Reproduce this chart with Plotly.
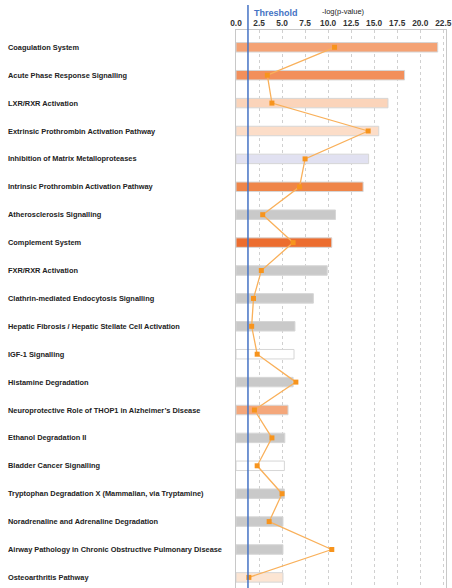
import plotly.graph_objects as go

pathways = [
    "Coagulation System",
    "Acute Phase Response Signalling",
    "LXR/RXR Activation",
    "Extrinsic Prothrombin Activation Pathway",
    "Inhibition of Matrix Metalloproteases",
    "Intrinsic Prothrombin Activation Pathway",
    "Atherosclerosis Signalling",
    "Complement System",
    "FXR/RXR Activation",
    "Clathrin-mediated Endocytosis Signalling",
    "Hepatic Fibrosis / Hepatic Stellate Cell Activation",
    "IGF-1 Signalling",
    "Histamine Degradation",
    "Neuroprotective Role of THOP1 in Alzheimer\u2019s Disease",
    "Ethanol Degradation II",
    "Bladder Cancer Signalling",
    "Tryptophan Degradation X (Mammalian, via Tryptamine)",
    "Noradrenaline and Adrenaline Degradation",
    "Airway Pathology in Chronic Obstructive Pulmonary Disease",
    "Osteoarthritis Pathway",
]
neg_log_p = [21.9, 18.3, 16.5, 15.5, 14.4, 13.8, 10.8, 10.4, 9.9, 8.4,
             6.4, 6.3, 6.2, 5.65, 5.3, 5.25, 5.25, 5.1, 5.1, 5.1]
ratio = [10.7, 3.4, 3.9, 14.35, 7.5, 6.9, 2.9, 6.2, 2.75, 1.9,
         1.7, 2.3, 6.5, 2.0, 3.9, 2.3, 5.0, 3.6, 10.4, 1.4]
bar_colors = ["#F4A274", "#F28F5B", "#FBD4BA", "#FCDDC8", "#E1E1F1", "#EF8548",
              "#C9C9C9", "#EC6D2F", "#C9C9C9", "#C9C9C9", "#C9C9C9", "#FFFFFF",
              "#C9C9C9", "#F4A77B", "#C9C9C9", "#FFFFFF", "#C9C9C9", "#C9C9C9",
              "#C9C9C9", "#FCE5D3"]
threshold = 1.3
x_ticks = [0, 2.5, 5, 7.5, 10, 12.5, 15, 17.5, 20, 22.5]

idx = list(range(len(pathways)))

fig = go.Figure()
fig.add_trace(go.Bar(
    x=neg_log_p, y=idx, orientation="h", width=0.34,
    marker=dict(color=bar_colors, line=dict(color="#D6D6D6", width=1)),
    showlegend=False, hoverinfo="skip",
))
fig.add_trace(go.Scatter(
    x=ratio, y=idx, mode="lines+markers",
    line=dict(color="#F9B05A", width=1.3),
    marker=dict(symbol="square", size=5, color="#F7941D"),
    showlegend=False, hoverinfo="skip",
))

for i, name in zip(idx, pathways):
    fig.add_annotation(
        x=-1.095, xref="paper", y=i, yref="y", text=name, showarrow=False,
        xanchor="left", yanchor="middle",
        font=dict(family="Liberation Sans, Arial", size=7.4,
                  color="#222222", weight="bold"),
    )

fig.add_shape(type="line", xref="x", yref="paper", x0=threshold, x1=threshold,
              y0=0, y1=1.045, line=dict(color="#4472C4", width=1.5), layer="above")
fig.add_annotation(x=threshold, xref="x", y=1.0305, yref="paper", text="Threshold",
                   showarrow=False, xanchor="left", yanchor="middle", xshift=4,
                   font=dict(family="Liberation Sans, Arial", size=9,
                             color="#4472C4", weight="bold"))
fig.add_annotation(x=0.40, xref="paper", y=1.034, yref="paper", text="-log(p-value)",
                   showarrow=False, xanchor="left", yanchor="middle",
                   font=dict(family="Liberation Sans, Arial", size=7.5, color="#222222"))

fig.update_layout(
    width=452, height=588,
    margin=dict(l=236, r=6, t=30, b=0),
    paper_bgcolor="white", plot_bgcolor="white",
    xaxis=dict(side="top", range=[0, 22.8], tickvals=x_ticks,
               ticktext=[f"{v:.1f}" for v in x_ticks],
               ticklabeloverflow="allow",
               showgrid=True, gridcolor="#D0D0D0", griddash="dot", gridwidth=1,
               zeroline=False, showline=True, linecolor="#C8C8C8", mirror=True,
               ticks="", tickfont=dict(family="Liberation Sans, Arial", size=8.3,
                                       color="#333333", weight="bold"),
               fixedrange=True),
    yaxis=dict(range=[19.38, -0.62], showticklabels=False, showgrid=False,
               zeroline=False, showline=True, linecolor="#C8C8C8", mirror=True,
               ticks="", fixedrange=True),
)

fig.write_html(
    "out.html",
    config={"displayModeBar": False, "staticPlot": True},
    post_script="document.body.style.margin='0';document.body.style.overflow='hidden';",
)
